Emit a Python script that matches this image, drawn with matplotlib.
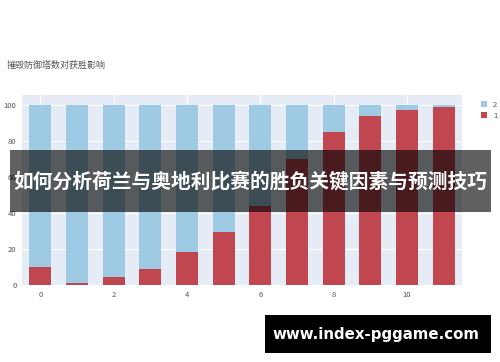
import matplotlib
matplotlib.use("Agg")
import matplotlib.pyplot as plt
from matplotlib.patches import Rectangle

plt.rcParams['font.family'] = ['Noto Sans CJK SC', 'DejaVu Sans']

# 摧毁防御塔数 0..11，获胜比例(%)
towers = list(range(12))
win_pct = [10, 1.3, 4.4, 9, 18.5, 29.6, 44, 70, 85, 94, 97, 99]
lose_pct = [100 - v for v in win_pct]

title = "摧毁防御塔数对获胜影响"
banner = "如何分析荷兰与奥地利比赛的胜负关键因素与预测技巧"
site = "www.index-pggame.com"

RED = "#c0474f"
BLUE = "#9ecae3"

fig = plt.figure(figsize=(5, 3.62), dpi=100)
ax = fig.add_axes([0.044, 0.2127, 0.88, 0.525])
ax.set_facecolor("#e5ecf6")

ax.bar(towers, win_pct, width=0.6, color=RED, label="1", zorder=2)
ax.bar(towers, lose_pct, width=0.6, bottom=win_pct, color=BLUE, label="2", zorder=2)

ax.set_xlim(-0.5, 11.5)
ax.set_ylim(0, 105.5)
ax.set_xticks(range(0, 12, 2))
ax.set_yticks(range(0, 101, 20))
ax.grid(True, color="white", linewidth=0.8, zorder=0)
ax.set_axisbelow(True)
ax.tick_params(length=0, labelsize=5.5, labelcolor="#555555", pad=4)
for s in ax.spines.values():
    s.set_visible(False)

h, l = ax.get_legend_handles_labels()
fig.legend(h[::-1], l[::-1], loc="upper left", bbox_to_anchor=(0.948, 0.74),
           frameon=False, fontsize=5.5, handlelength=0.8, handleheight=0.8,
           handletextpad=0.8, labelspacing=0.4, labelcolor="#555555")

fig.text(0.014, 0.818, title, fontsize=6.5, color="#555555", va="center")

# 覆盖横幅
fig.patches.append(Rectangle((0.02, (362 - 212) / 362), 0.962, 62 / 362,
                             transform=fig.transFigure, facecolor="black",
                             alpha=0.62, zorder=5))
fig.text(0.5, (362 - 182) / 362, banner, fontsize=14.2, fontweight="bold",
         color="white", ha="center", va="center", zorder=6)

# 水印
fig.patches.append(Rectangle((265 / 500, (362 - 353) / 362), 226 / 500, 38 / 362,
                             transform=fig.transFigure, facecolor="black", zorder=5))
fig.text(376 / 500, (362 - 334) / 362, site, fontsize=10.8, fontweight="bold",
         color="white", ha="center", va="center", family="DejaVu Sans", zorder=6)

fig.savefig("out.png", dpi=100)
